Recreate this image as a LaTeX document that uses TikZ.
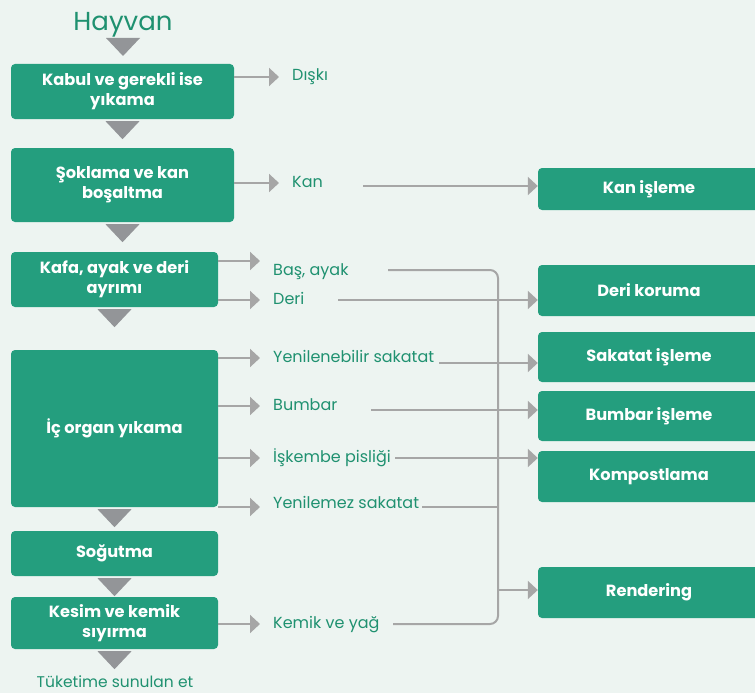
\documentclass[tikz,border=0pt]{standalone}
\usepackage{fontspec}
\setmainfont{Poppins}
\usetikzlibrary{arrows.meta,positioning}
\definecolor{bgcol}{RGB}{237,244,241}
\definecolor{stepgreen}{RGB}{36,158,126}
\definecolor{labgreen}{RGB}{31,145,112}
\definecolor{linegray}{RGB}{166,166,166}
\definecolor{trigray}{RGB}{147,149,152}
\newcommand{\flowtri}[1]{\fill[trigray] ([yshift=-2pt]#1) ++(-17,0) -- ++(34,0) -- ++(-17,18) -- cycle;}

\begin{document}
\begin{tikzpicture}[x=1pt,y=-1pt,
  stepbox/.style={fill=stepgreen,rounded corners=4pt,text=white,align=center,inner sep=0pt,
    font=\bfseries\fontsize{16.2}{20}\selectfont},
  outbox/.style={stepbox,minimum width=222pt},
  lab/.style={anchor=west,text=labgreen,inner sep=0pt,text height=11pt,text depth=3pt,
    font=\fontsize{16}{19}\selectfont},
  flow/.style={draw=linegray,line width=2pt,-{Triangle[length=10pt,width=18pt]}},
  bus/.style={draw=linegray,line width=2pt,rounded corners=8pt}]

  \fill[bgcol] (0,0) rectangle (755,693);                 % background
  \clip (0,0) rectangle (755,693);

  % main line
  \node[text=labgreen,font=\fontsize{26}{30}\selectfont] (hayvan) at (123,25) {Hayvan};
  \coordinate (hayvanT) at (123,36);
  \node[stepbox,minimum width=223pt,minimum height=55pt] (kabul) at (122.5,91.5) {Kabul ve gerekli ise\\yıkama};
  \node[stepbox,minimum width=223pt,minimum height=74pt] (sok) at (122.5,185) {Şoklama ve kan\\boşaltma};
  \node[stepbox,minimum width=207pt,minimum height=55pt] (kafa) at (114.5,279.5) {Kafa, ayak ve deri\\ayrımı};
  \node[stepbox,minimum width=207pt,minimum height=157pt] (ic) at (114.5,428.5) {İç organ yıkama};
  \node[stepbox,minimum width=207pt,minimum height=45pt] (sogut) at (114.5,553.5) {Soğutma};
  \node[stepbox,minimum width=207pt,minimum height=52pt] (kesim) at (114.5,623) {Kesim ve kemik\\sıyırma};
  \node[text=labgreen,inner sep=0pt,font=\fontsize{15.5}{19}\selectfont] (tuketim) at (115,682) {Tüketime sunulan et};

  \flowtri{hayvanT}                                        % down triangles
  \flowtri{kabul.south}
  \flowtri{sok.south}
  \flowtri{kafa.south}
  \flowtri{ic.south}
  \flowtri{sogut.south}
  \flowtri{kesim.south}

  % by-products
  \node[lab] (diski) at (292,77) {Dışkı};
  \node[lab] (kan) at (292,183) {Kan};
  \node[lab] (bas) at (273,271) {Baş, ayak};
  \node[lab] (deri) at (273,300) {Deri};
  \node[lab] (yensak) at (273,358) {Yenilenebilir sakatat};
  \node[lab] (bumbar) at (273,406) {Bumbar};
  \node[lab] (iskembe) at (273,458) {İşkembe pisliği};
  \node[lab] (yenmez) at (273,504) {Yenilemez sakatat};
  \node[lab] (kemik) at (273,624) {Kemik ve yağ};

  \draw[flow] (kabul.east |- diski.west) -- ([xshift=-13pt]diski.west);
  \draw[flow] (sok.east |- kan.west) -- ([xshift=-13pt]kan.west);
  \draw[flow] (kafa.east |- 0,261) -- ([xshift=-13pt,yshift=10pt]bas.west);
  \draw[flow] (kafa.east |- deri.west) -- ([xshift=-13pt]deri.west);
  \draw[flow] (ic.east |- yensak.west) -- ([xshift=-13pt]yensak.west);
  \draw[flow] (ic.east |- bumbar.west) -- ([xshift=-13pt]bumbar.west);
  \draw[flow] (ic.east |- iskembe.west) -- ([xshift=-13pt]iskembe.west);
  \draw[flow] (ic.east |- 0,507) -- ([xshift=-13pt,yshift=-3pt]yenmez.west);
  \draw[flow] (kesim.east |- kemik.west) -- ([xshift=-13pt]kemik.west);

  % treatment
  \node[outbox,minimum height=42pt] (kanis) at (649,189) {Kan işleme};
  \node[outbox,minimum height=51pt] (derikor) at (649,290.5) {Deri koruma};
  \node[outbox,minimum height=50pt] (sakis) at (649,357) {Sakatat işleme};
  \node[outbox,minimum height=50pt] (bumis) at (649,416) {Bumbar işleme};
  \node[outbox,minimum height=51pt] (kompost) at (649,476.5) {Kompostlama};
  \node[outbox,minimum height=51pt] (render) at (649,592.5) {Rendering};

  \coordinate (kanS) at (363,186);
  \coordinate (deriS) at (338,300);
  \coordinate (yensakS) at (439,363);
  \coordinate (bumbarS) at (371,410);
  \coordinate (iskembeS) at (395,458);
  \coordinate (basS) at (388,270);
  \coordinate (yenmezS) at (422,507);
  \coordinate (kemikS) at (393,624);
  \coordinate (busX) at (498,590);

  \draw[flow] (kanS) -- (kanis.west |- kanS);
  \draw[flow] (deriS) -- (derikor.west |- deriS);
  \draw[flow] (yensakS) -- (sakis.west |- yensakS);
  \draw[flow] (bumbarS) -- (bumis.west |- bumbarS);
  \draw[flow] (iskembeS) -- (kompost.west |- iskembeS);

  \draw[bus] (basS) -- (busX |- basS) -- (busX |- kemikS) -- (kemikS);   % rendering bus
  \draw[bus] (yenmezS) -- (busX |- yenmezS);
  \draw[flow] (busX) -- (render.west |- busX);
\end{tikzpicture}
\end{document}
